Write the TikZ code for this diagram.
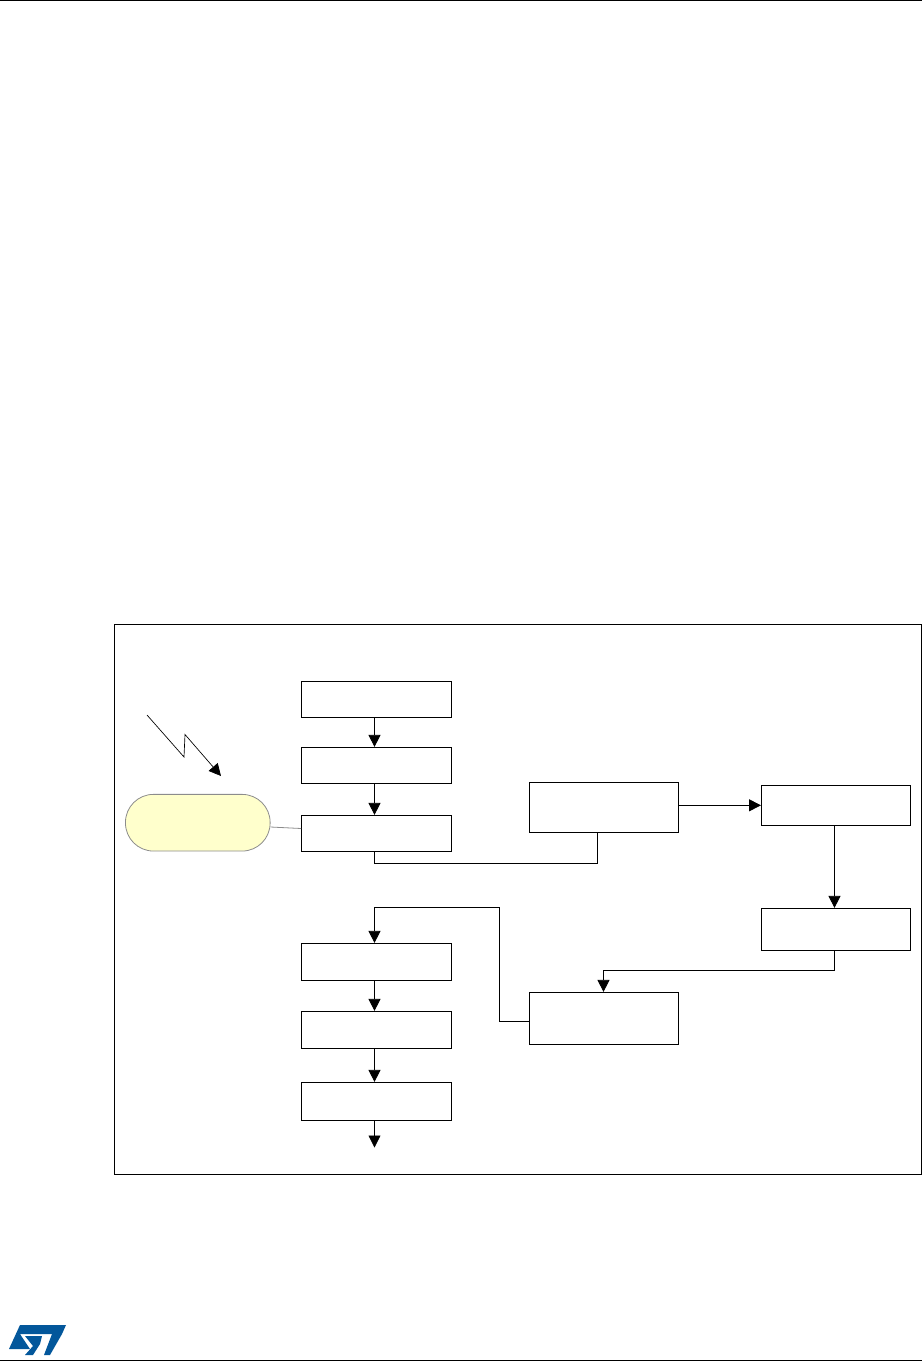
\documentclass[tikz,border=0pt]{standalone}
\usepackage{xcolor}
\usetikzlibrary{arrows.meta}
\definecolor{notefill}{HTML}{FFFFCC}
\definecolor{stblue}{HTML}{03579B}
\tikzset{
    block/.style={draw=black, line width=0.6pt, minimum width=112.5pt, inner sep=0pt},
    blockb/.style={block, minimum width=111.9pt},
    link/.style={draw=black, line width=0.6pt},
}

\begin{document}
\begin{tikzpicture}[>={Triangle[length=9pt, width=9pt]}, x=0.75pt, y=-0.75pt]
    \useasboundingbox (0, 0) rectangle (922, 1361);
    \coordinate (headl) at (0, 0.5);
    \coordinate (headr) at (922, 0.5);
    \coordinate (footl) at (0, 1360.5);
    \coordinate (footr) at (922, 1360.5);
    \draw[line width=0.7pt] (headl) -- (headr);
    \draw[line width=0.7pt] (footl) -- (footr);
    \node[draw=black, line width=0.7pt, minimum width=605.25pt, minimum height=412.5pt, inner sep=0pt] (frame) at (517.8, 899.3) {};

    \node[block, minimum height=27pt] (a1) at (376.5, 699.3) {};
    \node[block, minimum height=27pt] (a2) at (376.5, 765.3) {};
    \node[block, minimum height=27pt] (a3) at (376.5, 833.3) {};
    \node[blockb, minimum height=37.5pt] (b1) at (604, 807.3) {};
    \node[blockb, minimum height=30pt] (b2) at (836, 805.3) {};
    \node[blockb, minimum height=31.5pt] (b3) at (836, 929.3) {};
    \node[blockb, minimum height=39pt] (b4) at (604, 1018.3) {};
    \node[block, minimum height=27.75pt] (c1) at (376.5, 961.8) {};
    \node[block, minimum height=27.75pt] (c2) at (376.5, 1029.8) {};
    \node[block, minimum height=28.5pt] (c3) at (376.5, 1101.3) {};
    \node[draw=black!45, line width=0.6pt, fill=notefill, rounded corners=21pt, minimum width=108.5pt, minimum height=42.5pt, inner sep=0pt] (note) at (197.8, 822.7) {};

    \coordinate (bolt1) at (147, 715);
    \coordinate (bolt2) at (184, 757);
    \coordinate (bolt3) at (185, 734.5);
    \coordinate (bolt4) at (221, 776);
    \coordinate (exit) at (374.5, 1147.5);

    \draw[line width=0.5pt, ->] (bolt1) -- (bolt2) -- (bolt3) -- (bolt4);
    \draw[draw=black!45, line width=0.6pt] (note.east |- 0, 827) -- (a3.west |- 0, 828.5);
    \draw[link, ->] (a1.south -| 374.5, 0) -- (a2.north -| 374.5, 0);
    \draw[link, ->] (a2.south -| 374.5, 0) -- (a3.north -| 374.5, 0);
    \draw[link] (a3.south -| 374.5, 0) -- (374.5, 863.3) -| (b1.south -| 597.5, 0);
    \draw[link, ->] (b1.east |- 0, 805.3) -- (b2.west |- 0, 805.3);
    \draw[link, ->] (b2.south -| 834.5, 0) -- (b3.north -| 834.5, 0);
    \draw[link, ->] (b3.south -| 834.5, 0) -- (834.5, 970.3) -| (b4.north -| 603.5, 0);
    \draw[link, ->] (b4.west |- 0, 1021.3) -- (499.5, 1021.3) |- (374.5, 907.3) -- (c1.north -| 374.5, 0);
    \draw[link, ->] (c1.south -| 374.5, 0) -- (c2.north -| 374.5, 0);
    \draw[link, ->] (c2.south -| 374.5, 0) -- (c3.north -| 374.5, 0);
    \draw[link, ->] (c3.south -| 374.5, 0) -- (exit);

    % logo
    \fill[stblue] (20, 1325) -- (66, 1325) -- (62, 1334) -- (20, 1334) -- (30, 1349) -- (9, 1349) -- cycle;
    \fill[stblue] (25, 1336) -- (42, 1336) -- (40, 1344) -- (33, 1355) -- (25, 1355) -- (33, 1346) -- cycle;
    \fill[stblue] (52, 1334) -- (62, 1334) -- (50, 1355) -- (44, 1355) -- cycle;
\end{tikzpicture}
\end{document}
